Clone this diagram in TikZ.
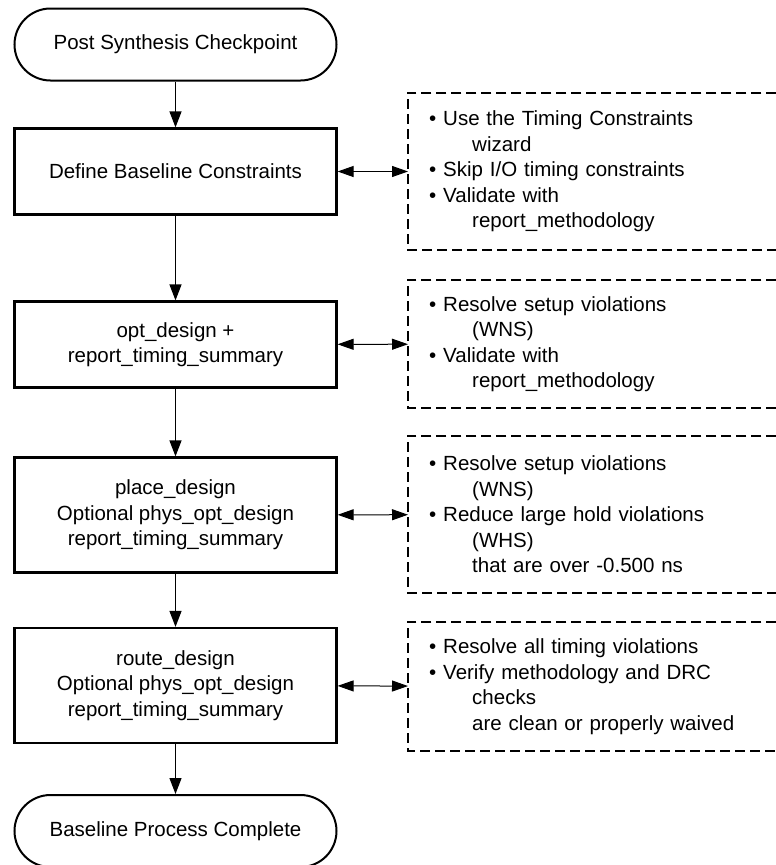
\documentclass[tikz,border=0pt]{standalone}
\usepackage{fontspec}
\setmainfont{Liberation Sans}
\usetikzlibrary{arrows.meta}

\newcommand{\itm}{\textbullet\ }
\newcommand{\cnt}{\hspace*{43pt}}

\begin{document}
\begin{tikzpicture}[x=1pt,y=-1pt,
  font=\fontsize{20.5}{25.5}\selectfont,
  term/.style={draw,line width=2pt,rounded corners=36pt,minimum width=322pt,minimum height=72pt,inner sep=0pt},
  proc/.style={draw,line width=2.2pt,minimum width=322pt,align=center,inner sep=0pt},
  note/.style={anchor=west,minimum width=368pt,text width=326pt,inner xsep=21pt,inner ysep=0pt,align=left},
  flow/.style={-{Triangle[length=16pt,width=12pt]},line width=1.2pt},
  both/.style={{Triangle[length=16pt,width=11pt]}-{Triangle[length=16pt,width=11pt]},line width=1pt},
  frame/.style={dash pattern=on 10pt off 5pt,line width=2.2pt}]
\useasboundingbox (0,0) rectangle (776,865);

% main flow
\node[term] (start) at (175.5,44.5) {Post Synthesis Checkpoint};
\node[proc,minimum height=86pt] (define) at (175.5,171.5) {Define Baseline Constraints};
\node[proc,minimum height=86pt] (opt) at (175.5,344.5) {opt\_design +\\report\_timing\_summary};
\node[proc,minimum height=115pt] (place) at (175.5,515) {place\_design\\Optional phys\_opt\_design\\report\_timing\_summary};
\node[proc,minimum height=115pt] (route) at (175.5,685.5) {route\_design\\Optional phys\_opt\_design\\report\_timing\_summary};
\node[term] (done) at (175.5,831) {Baseline Process Complete};

\draw[flow] (start) -- (define);
\draw[flow] (define) -- (opt);
\draw[flow] (opt) -- (place);
\draw[flow] (place) -- (route);
\draw[flow] (route) -- (done);

% side notes
\node[note,minimum height=157pt] (ndefine) at (408,171.5) {\itm Use the Timing Constraints\\\cnt wizard\\\itm Skip I/O timing constraints\\\itm Validate with\\\cnt report\_methodology};
\node[note,minimum height=128pt] (nopt) at (408,344) {\itm Resolve setup violations\\\cnt (WNS)\\\itm Validate with\\\cnt report\_methodology};
\node[note,minimum height=157pt] (nplace) at (408,514.5) {\itm Resolve setup violations\\\cnt (WNS)\\\itm Reduce large hold violations\\\cnt (WHS)\\\cnt that are over -0.500 ns};
\node[note,minimum height=129pt] (nroute) at (408,686.5) {\itm Resolve all timing violations\\\itm Verify methodology and DRC\\\cnt checks\\\cnt are clean or properly waived};

\foreach \n in {ndefine,nopt,nplace,nroute}
  \draw[frame] (\n.north east) -- (\n.north west) -- (\n.south west) -- (\n.south east);

\draw[both] (define) -- (ndefine);
\draw[both] (opt) -- (nopt);
\draw[both] (place) -- (nplace);
\draw[both] (route) -- (nroute);
\end{tikzpicture}
\end{document}
